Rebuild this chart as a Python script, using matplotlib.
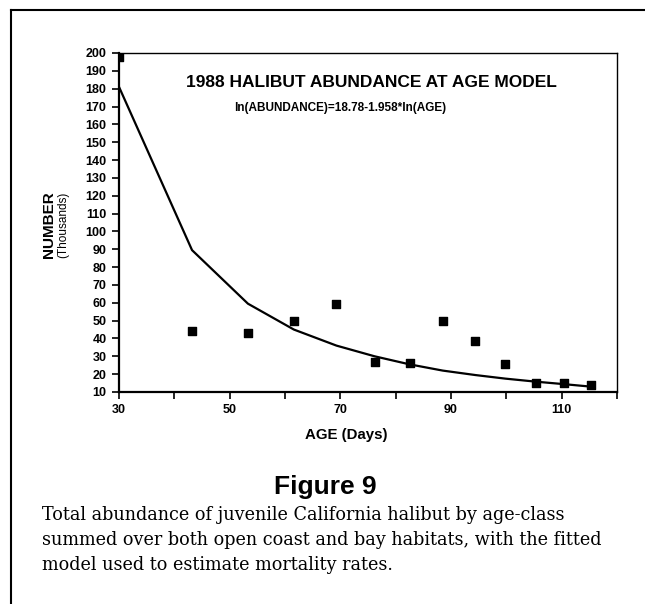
import numpy as np
import matplotlib
matplotlib.use('Agg')
import matplotlib.pyplot as plt
from matplotlib.lines import Line2D

# наблюдаемая численность по возрастным классам (тыс.)
age = [30, 43.2, 53.3, 61.6, 69.3, 76.2, 82.5, 88.5, 94.4, 99.8, 105.3, 110.4, 115.3]
abundance = [198, 44, 43, 50, 59.5, 27, 26.5, 50, 38.5, 25.5, 15, 15, 14]
# подобранная модель в тех же точках
fitted = [181, 89.5, 59.5, 45, 36, 30, 25.5, 22, 19.5, 17.5, 15.8, 14.4, 13]

x_ticks = [30, 50, 70, 90, 110]
y_ticks = list(range(10, 201, 10))

title = '1988 HALIBUT ABUNDANCE AT AGE MODEL'
equation = 'ln(ABUNDANCE)=18.78-1.958*ln(AGE)'
caption = ('Total abundance of juvenile California halibut by age-class\n'
           'summed over both open coast and bay habitats, with the fitted\n'
           'model used to estimate mortality rates.')

fig = plt.figure(figsize=(6.45, 6.04), dpi=100)
ax = fig.add_axes([0.1845, 0.351, 0.7721, 0.5613])

ax.plot(age, fitted, color='black', linewidth=1.6)
ax.scatter(age, abundance, marker='s', s=32, color='black', zorder=3)

ax.set_xlim(30, 120)
ax.set_ylim(10, 200)
ax.set_xticks(range(30, 121, 10))
ax.set_xticklabels([str(t) if t in x_ticks else '' for t in range(30, 121, 10)])
ax.set_yticks(y_ticks)
ax.tick_params(direction='out', length=5, width=1.2, labelsize=9, pad=4)
for lab in ax.get_xticklabels() + ax.get_yticklabels():
    lab.set_fontweight('bold')
    lab.set_family('Liberation Sans')
for s in ['left', 'bottom']:
    ax.spines[s].set_linewidth(1.6)
for s in ['top', 'right']:
    ax.spines[s].set_linewidth(1.0)

fig.text(346 / 645, 1 - 435 / 604, 'AGE (Days)', ha='center', va='center',
         fontsize=10.8, fontweight='bold', family='Liberation Sans')
fig.text(49 / 645, 0.6275, 'NUMBER', rotation=90, ha='center', va='center',
         fontsize=11, fontweight='bold', family='Liberation Sans')
fig.text(63 / 645, 0.6275, '(Thousands)', rotation=90, ha='center', va='center',
         fontsize=8.5, family='Liberation Sans')

ax.text(0.506, 0.914, title, transform=ax.transAxes, ha='center', va='center',
        fontsize=12.5, fontweight='bold', family='Liberation Sans')
ax.text(0.444, 0.838, equation, transform=ax.transAxes, ha='center', va='center',
        fontsize=8.5, fontweight='bold', family='Liberation Sans')

fig.text(325 / 645, 1 - 487 / 604, 'Figure 9', ha='center', va='center',
         fontsize=19, fontweight='bold', family='Liberation Sans')
fig.text(0.065, 1 - 506 / 604, caption, ha='left', va='top',
         fontsize=12.7, family='DejaVu Serif', linespacing=1.5)

# рамка вокруг рисунка (только сверху и слева)
fig.add_artist(Line2D([11 / 645, 1], [1 - 10 / 604] * 2, color='black', linewidth=1.5))
fig.add_artist(Line2D([11 / 645] * 2, [0, 1 - 10 / 604], color='black', linewidth=1.5))

fig.savefig('out.png', dpi=100)
